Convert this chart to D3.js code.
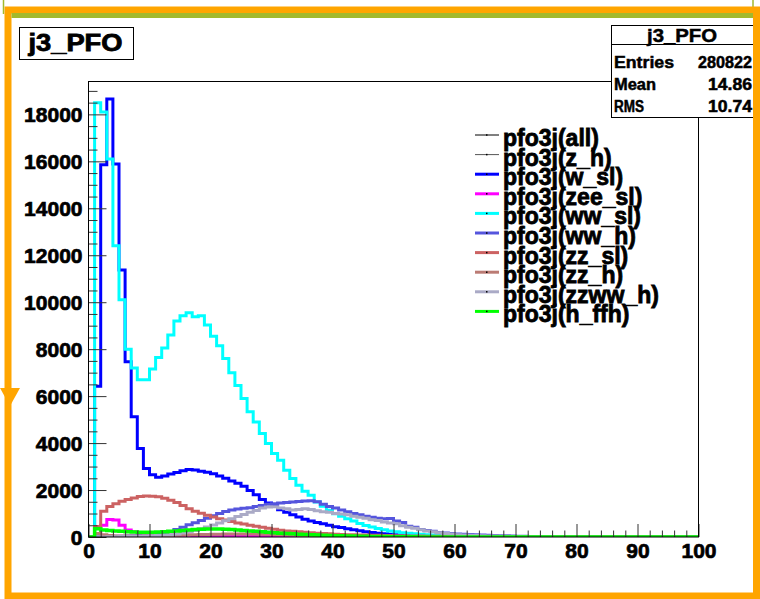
<!DOCTYPE html>
<html><head><meta charset="utf-8">
<script src="https://cdn.jsdelivr.net/npm/d3@7"></script>
<style>html,body{margin:0;padding:0;background:#fff;overflow:hidden}</style>
</head><body>
<svg id="c" width="760" height="599"></svg>
<script>
// ---------- data ----------
const binLow = 0, binHigh = 100, nBins = 100;
const seriesNames = ["pfo3j(all)", "pfo3j(z_h)", "pfo3j(w_sl)", "pfo3j(zee_sl)", "pfo3j(ww_sl)",
  "pfo3j(ww_h)", "pfo3j(zz_sl)", "pfo3j(zz_h)", "pfo3j(zzww_h)", "pfo3j(h_ffh)"];
const allVals = [];
const zHVals = [];
const wSlVals = [0, 6420, 15850, 18650, 15890, 11370, 7460, 5120, 3770, 2920,
  2650, 2550, 2600, 2680, 2750, 2820, 2880, 2850, 2800, 2760,
  2690, 2600, 2500, 2380, 2290, 2160, 1980, 1800, 1600, 1450,
  1300, 1160, 1050, 950, 850, 760, 680, 620, 560, 500,
  440, 400, 350, 305, 265, 225, 195, 165, 140, 120,
  100, 85, 72, 60, 50, 42, 35, 29, 24, 20,
  16, 13, 10, 8, 6, 5, 4, 3, 2, 2, 1, 1, 1, 1];
const zeeSlVals = [0, 150, 500, 750, 720, 500, 300, 220, 170, 140,
  120, 105, 95, 88, 82, 76, 72, 68, 64, 60,
  58, 56, 54, 52, 50, 48, 45, 43, 41, 39,
  37, 35, 33, 31, 29, 27, 25, 23, 21, 19,
  17, 15, 14, 13, 12, 11, 10, 9, 8, 7,
  6, 5, 5, 4, 4, 3, 3, 2, 2, 2];
const wwSlVals = [0, 18500, 18100, 16100, 12400, 10100, 8000, 7200, 6700, 6700,
  7150, 7650, 8050, 8600, 9200, 9420, 9550, 9380, 9420, 9030,
  8550, 8150, 7600, 7000, 6450, 5900, 5330, 4900, 4410, 3980,
  3560, 3270, 2845, 2490, 2200, 1950, 1780, 1490, 1310, 1140,
  995, 880, 780, 680, 580, 490, 425, 360, 305, 260,
  220, 185, 160, 135, 115, 97, 82, 70, 58, 48,
  40, 33, 27, 22, 18, 15, 12, 10, 8, 6,
  5, 4, 3, 2, 2, 1, 1];
const wwHVals = [0, 10, 20, 25, 30, 35, 40, 50, 60, 75,
  90, 115, 160, 230, 320, 420, 520, 610, 700, 800,
  900, 1000, 1090, 1150, 1190, 1220, 1250, 1300, 1340, 1390,
  1420, 1450, 1470, 1490, 1510, 1530, 1540, 1500, 1400, 1300,
  1230, 1150, 1080, 1000, 950, 880, 840, 800, 780, 790,
  680, 620, 460, 420, 320, 280, 250, 190, 170, 150,
  125, 115, 105, 95, 80, 70, 62, 55, 48, 42,
  36, 30, 26, 22, 18, 15, 12, 10, 8, 6,
  5, 4, 3, 2, 2, 1, 1];
const zzSlVals = [0, 450, 1100, 1300, 1420, 1520, 1600, 1660, 1720, 1750,
  1740, 1710, 1650, 1570, 1470, 1340, 1200, 1100, 1010, 930,
  850, 780, 720, 660, 600, 550, 500, 460, 420, 370,
  330, 290, 260, 240, 220, 200, 180, 165, 150, 135,
  120, 110, 100, 92, 85, 80, 75, 70, 65, 60,
  55, 50, 46, 42, 38, 35, 32, 29, 26, 24,
  22, 20, 18, 16, 14, 12, 11, 10, 9, 8,
  7, 6, 5, 4, 3, 3, 2, 2, 1, 1];
const zzHVals = [0, 150, 100, 60, 45, 40, 40, 42, 45, 50,
  55, 60, 66, 72, 78, 85, 92, 98, 104, 110,
  115, 120, 124, 127, 130, 130, 128, 125, 120, 114,
  107, 100, 92, 84, 76, 68, 60, 53, 46, 40,
  34, 29, 25, 21, 18, 15, 12, 10, 8, 6,
  5, 4, 3, 2, 2, 1, 1];
const zzwwHVals = [0, 0, 5, 10, 15, 20, 25, 30, 35, 40,
  50, 60, 80, 100, 130, 170, 220, 280, 350, 430,
  510, 600, 690, 780, 870, 960, 1050, 1130, 1230, 1280,
  1290, 1230, 1200, 1150, 1170, 1200, 1170, 1120, 1080, 1050,
  1000, 980, 950, 880, 840, 800, 740, 700, 640, 600,
  560, 480, 420, 370, 310, 260, 220, 180, 150, 125,
  100, 85, 72, 62, 52, 45, 38, 32, 27, 23,
  19, 16, 13, 11, 9, 7, 6, 5, 4, 3, 2, 2, 1, 1];
const hFfhVals = [0, 350, 300, 280, 260, 240, 220, 210, 200, 200,
  200, 210, 220, 240, 260, 280, 300, 320, 330, 340,
  340, 340, 330, 320, 300, 280, 260, 240, 220, 200,
  180, 165, 150, 135, 120, 105, 95, 85, 75, 65,
  58, 50, 44, 38, 33, 28, 24, 20, 17, 14,
  12, 10, 8, 6, 5, 4, 3, 3, 2, 2, 1, 1];
const xTickLabels = [0, 10, 20, 30, 40, 50, 60, 70, 80, 90, 100];
const yTickLabels = [0, 2000, 4000, 6000, 8000, 10000, 12000, 14000, 16000, 18000];
const histTitle = "j3_PFO";
const statLabels = ["Entries", "Mean", "RMS"];
const statValues = ["280822", "14.86", "10.74"];

// ---------- styles ----------
const seriesValues = [allVals, zHVals, wSlVals, zeeSlVals, wwSlVals, wwHVals, zzSlVals, zzHVals, zzwwHVals, hFfhVals];
const colors = ["#000000", "#555555", "#0000ff", "#ff00ff", "#00ffff", "#5555dd", "#cc6262", "#bb7b74", "#aaaac6", "#00ff00"];
const widths = [1, 1, 3, 3, 3, 3, 3, 3, 3, 3.5];
const FONT = "'Liberation Sans', Arial, Helvetica, sans-serif";

const svg = d3.select("#c");
const W = 760, H = 599;
svg.append("rect").attr("width", W).attr("height", H).attr("fill", "#fff");

const x = d3.scaleLinear().domain([binLow, binHigh]).range([88.5, 698.5]);
const y = d3.scaleLinear().domain([0, 19400]).range([537, 81.5]);

svg.append("clipPath").attr("id", "plotclip").append("rect")
  .attr("x", x(binLow)).attr("y", y(19400)).attr("width", x(binHigh) - x(binLow)).attr("height", y(0) - y(19400));

const binW = (binHigh - binLow) / nBins;
function stepPts(vals) {
  const pts = [[binLow, 0]];
  for (let i = 0; i < nBins; i++) {
    const v = i < vals.length ? vals[i] : 0;
    pts.push([binLow + i * binW, v], [binLow + (i + 1) * binW, v]);
  }
  pts.push([binHigh, 0]);
  return pts;
}
const line = d3.line().x(d => x(d[0])).y(d => y(d[1]));
const hg = svg.append("g").attr("clip-path", "url(#plotclip)");
seriesValues.forEach((vals, k) => {
  if (!vals.length) return;
  hg.append("path").attr("d", line(stepPts(vals)))
    .attr("fill", "none").attr("stroke", colors[k]).attr("stroke-width", widths[k])
    .attr("stroke-linejoin", "miter");
});

// axes
const yMinor = d3.range(0, 19400, 500).filter(v => v % 2000 !== 0);
const gy = svg.append("g").attr("transform", `translate(${x(0)},0)`);
gy.call(d3.axisLeft(y).tickValues(yMinor).tickSize(-9).tickFormat(""));
gy.select(".domain").remove();
const gy2 = svg.append("g").attr("transform", `translate(${x(0)},0)`);
gy2.call(d3.axisLeft(y).tickValues(yTickLabels).tickSize(-18).tickPadding(6).tickFormat(d => String(d)));
gy2.select(".domain").remove();
const xMinor = d3.range(0, 101, 2).filter(v => v % 10 !== 0);
const gx = svg.append("g").attr("transform", `translate(0,${y(0)})`);
gx.call(d3.axisBottom(x).tickValues(xMinor).tickSize(-6.5).tickFormat(""));
gx.select(".domain").remove();
const gx2 = svg.append("g").attr("transform", `translate(0,${y(0)})`);
gx2.call(d3.axisBottom(x).tickValues(xTickLabels).tickSize(-13).tickPadding(6).tickFormat(d => String(d)));
gx2.select(".domain").remove();
svg.selectAll(".tick line").attr("stroke", "#333").attr("stroke-width", 1);
svg.selectAll(".tick text").attr("font-family", FONT).attr("font-weight", "bold")
  .attr("font-size", 21).attr("fill", "#000").attr("stroke", "#000").attr("stroke-width", 0.7);
gy2.selectAll(".tick text").attr("dy", "0.36em");

// frame
svg.append("rect").attr("x", x(0)).attr("y", y(19400)).attr("width", x(100) - x(0)).attr("height", y(0) - y(19400))
  .attr("fill", "none").attr("stroke", "#000").attr("stroke-width", 1);

// legend
const lg = svg.append("g");
seriesNames.forEach((name, k) => {
  const ry = 135 + k * 19.6;
  lg.append("line").attr("x1", 475).attr("x2", 499).attr("y1", ry).attr("y2", ry)
    .attr("stroke", colors[k]).attr("stroke-width", widths[k] > 1 ? 3 : 1);
  lg.append("rect").attr("x", 486).attr("y", ry - 0.75).attr("width", 1.5).attr("height", 1.5).attr("fill", "#000");
  lg.append("text").attr("x", 503).attr("y", ry + 11).text(name)
    .attr("font-family", FONT).attr("font-weight", "bold").attr("font-size", 23).attr("fill", "#000")
    .attr("stroke", "#000").attr("stroke-width", 0.8);
});

// title box
svg.append("rect").attr("x", 19.5).attr("y", 27.5).attr("width", 114).attr("height", 32)
  .attr("fill", "#fff").attr("stroke", "#000").attr("stroke-width", 1);
svg.append("text").attr("x", 75.5).attr("y", 51).attr("text-anchor", "middle").text(histTitle)
  .attr("font-family", FONT).attr("font-weight", "bold").attr("font-size", 23)
  .attr("stroke", "#000").attr("stroke-width", 0.8)
  .attr("textLength", 94).attr("lengthAdjust", "spacingAndGlyphs");

// stats box
svg.append("rect").attr("x", 611.5).attr("y", 25.5).attr("width", 150).attr("height", 92)
  .attr("fill", "#fff").attr("stroke", "#000").attr("stroke-width", 1);
svg.append("line").attr("x1", 611.5).attr("x2", 760).attr("y1", 44.5).attr("y2", 44.5).attr("stroke", "#000");
svg.append("text").attr("x", 682).attr("y", 42).attr("text-anchor", "middle").text(histTitle)
  .attr("font-family", FONT).attr("font-weight", "bold").attr("font-size", 19)
  .attr("stroke", "#000").attr("stroke-width", 0.5)
  .attr("textLength", 70).attr("lengthAdjust", "spacingAndGlyphs");
const labW = [60, 42, 30], valW = [54, 44, 44], rowBase = [67.5, 90, 112];
statLabels.forEach((s, i) => {
  svg.append("text").attr("x", 614).attr("y", rowBase[i]).text(s)
    .attr("font-family", FONT).attr("font-weight", "bold").attr("font-size", 16)
    .attr("stroke", "#000").attr("stroke-width", 0.5)
    .attr("textLength", labW[i]).attr("lengthAdjust", "spacingAndGlyphs");
  svg.append("text").attr("x", 752).attr("y", rowBase[i]).attr("text-anchor", "end").text(statValues[i])
    .attr("font-family", FONT).attr("font-weight", "bold").attr("font-size", 16)
    .attr("stroke", "#000").attr("stroke-width", 0.5)
    .attr("textLength", valW[i]).attr("lengthAdjust", "spacingAndGlyphs");
});

// pad frames
svg.append("line").attr("x1", 3.5).attr("x2", 3.5).attr("y1", 0).attr("y2", 14).attr("stroke", "#a3b92c").attr("stroke-width", 1.5);
svg.append("line").attr("x1", 753).attr("x2", 753).attr("y1", 0).attr("y2", 14).attr("stroke", "#a3b92c").attr("stroke-width", 1.5);
svg.append("rect").attr("x", 8).attr("y", 10).attr("width", 748.5).attr("height", 586)
  .attr("fill", "none").attr("stroke", "#ffa500").attr("stroke-width", 7);
svg.append("line").attr("x1", 11.5).attr("x2", 753).attr("y1", 15.5).attr("y2", 15.5).attr("stroke", "#a3b92c").attr("stroke-width", 5);
svg.append("path").attr("d", d3.line()([[0, 388], [20, 388], [10, 406]]) + "Z").attr("fill", "#ffa500");
</script>
</body></html>
